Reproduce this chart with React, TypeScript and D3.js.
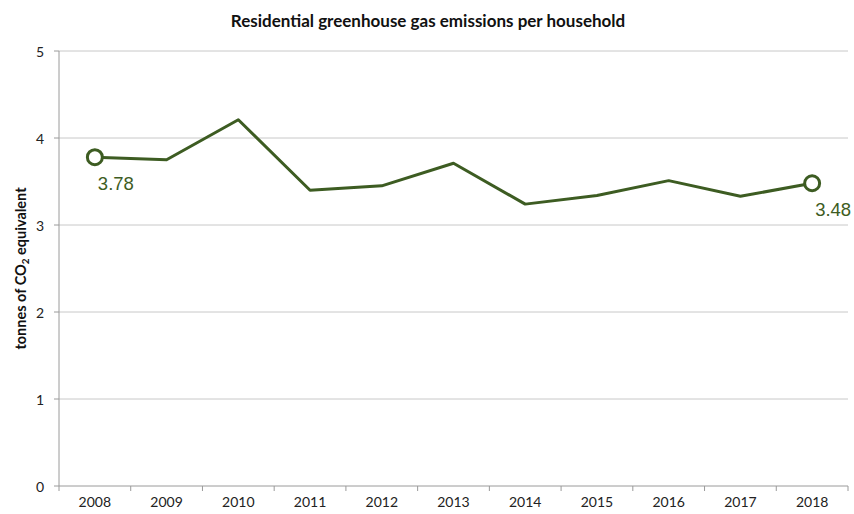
import React from "react";
import * as d3 from "d3";

const years = ["2008","2009","2010","2011","2012","2013","2014","2015","2016","2017","2018"];
const values = [3.78, 3.75, 4.21, 3.40, 3.45, 3.71, 3.24, 3.34, 3.51, 3.33, 3.48];
const yTicks = [0, 1, 2, 3, 4, 5];
const labelled = [0, 10];

const W = 854, H = 514;
const M = { left: 59, right: 6, top: 51, bottom: 28 };
const GREEN = "#3d5c22";
const FONT = "Lato, 'Open Sans', sans-serif";

export default function App() {
  const x = d3.scaleBand<string>().domain(years).range([M.left, W - M.right]).padding(0);
  const y = d3.scaleLinear().domain([0, 5]).range([H - M.bottom, M.top]);
  const cx = (i: number) => (x(years[i]) as number) + x.bandwidth() / 2;
  const line = d3.line<number>().x((_, i) => cx(i)).y((d) => y(d));
  const bandEdges = years.map((yr) => x(yr) as number).concat([W - M.right]);

  return (
    <svg width={W} height={H} style={{ position: "absolute", left: 0, top: 0 }}>
      <rect width={W} height={H} fill="#fff" />
      <text x={428} y={27} textAnchor="middle" fontFamily={FONT} fontWeight="bold" fontSize={17} fill="#111">
        Residential greenhouse gas emissions per household
      </text>
      {yTicks.filter((t) => t > 0).map((t) => (
        <line key={t} x1={M.left} x2={W - M.right} y1={y(t)} y2={y(t)} stroke="#c8c8c8" strokeWidth={1} />
      ))}
      <line x1={M.left} x2={M.left} y1={M.top} y2={y(0)} stroke="#9a9a9a" />
      <line x1={M.left} x2={W - M.right} y1={y(0)} y2={y(0)} stroke="#9a9a9a" />
      {yTicks.map((t) => (
        <g key={t}>
          <line x1={M.left - 5} x2={M.left} y1={y(t)} y2={y(t)} stroke="#9a9a9a" />
          <text x={M.left - 15} y={y(t) + 5.5} textAnchor="end" fontFamily={FONT} fontSize={14} fill="#222">{t}</text>
        </g>
      ))}
      {bandEdges.map((e, i) => (
        <line key={i} x1={e} x2={e} y1={y(0)} y2={y(0) + 5} stroke="#9a9a9a" />
      ))}
      {years.map((yr, i) => (
        <text key={yr} x={cx(i)} y={507} textAnchor="middle" fontFamily={FONT} fontSize={14} fill="#222">{yr}</text>
      ))}
      <text transform={`translate(26,${(M.top + y(0)) / 2}) rotate(-90)`} textAnchor="middle" fontFamily={FONT} fontWeight="bold" fontSize={14.5} fill="#111">
        tonnes of CO<tspan fontSize={10} dy={3}>2</tspan><tspan dy={-3}> equivalent</tspan>
      </text>
      <path d={line(values) || ""} fill="none" stroke={GREEN} strokeWidth={3} strokeLinejoin="round" />
      {labelled.map((i) => (
        <g key={i}>
          <circle cx={cx(i)} cy={y(values[i])} r={7.5} fill="#fff" stroke={GREEN} strokeWidth={3} />
          <text x={cx(i) + 3} y={y(values[i]) + 33} fontFamily="'Liberation Sans', Arial, sans-serif" fontSize={18.5} fill={GREEN}>
            {values[i].toFixed(2)}
          </text>
        </g>
      ))}
    </svg>
  );
}
